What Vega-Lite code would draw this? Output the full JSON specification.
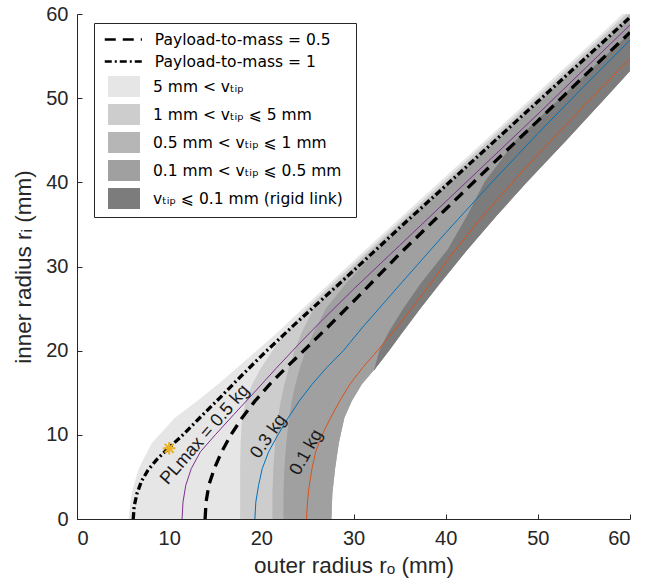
{
  "$schema": "https://vega.github.io/schema/vega-lite/v6.json",
  "width": 553,
  "height": 505,
  "autosize": {"type": "none"},
  "padding": {"left": 77, "top": 14, "right": 21, "bottom": 63},
  "background": "white",
  "config": {
    "view": {"stroke": null},
    "axis": {
      "grid": false,
      "domainColor": "#262626",
      "tickColor": "#262626",
      "labelColor": "#262626",
      "titleColor": "#262626",
      "labelFont": "Liberation Sans",
      "titleFont": "Liberation Sans",
      "labelFontSize": 20,
      "titleFontSize": 22.5,
      "titleFontWeight": "normal",
      "tickSize": -5,
      "labelPadding": 14
    }
  },
  "datasets": {
    "bands": [
      {"b": "L1", "y": 0, "x": 5.6, "x2": 27.6}, {"b": "L1", "y": 3, "x": 5.9, "x2": 27.7}, {"b": "L1", "y": 6, "x": 6.7, "x2": 28.0}, {"b": "L1", "y": 9, "x": 8.1, "x2": 28.4}, {"b": "L1", "y": 12, "x": 10.6, "x2": 29.0}, {"b": "L1", "y": 14, "x": 13.0, "x2": 29.8}, {"b": "L1", "y": 16, "x": 15.3, "x2": 30.9}, {"b": "L1", "y": 18, "x": 17.4, "x2": 32.45}, {"b": "L1", "y": 20, "x": 19.5, "x2": 33.85}, {"b": "L1", "y": 22, "x": 21.6, "x2": 35.2}, {"b": "L1", "y": 25, "x": 24.5, "x2": 37.25}, {"b": "L1", "y": 28, "x": 27.4, "x2": 39.4}, {"b": "L1", "y": 32, "x": 31.3, "x2": 42.35}, {"b": "L1", "y": 36, "x": 35.3, "x2": 45.5}, {"b": "L1", "y": 40, "x": 39.3, "x2": 48.8}, {"b": "L1", "y": 45, "x": 44.3, "x2": 53.1}, {"b": "L1", "y": 50, "x": 49.3, "x2": 57.3}, {"b": "L1", "y": 55, "x": 54.3, "x2": 61.5}, {"b": "L1", "y": 60, "x": 59.2, "x2": 65.7},
      {"b": "L2", "y": 0, "x": 17.7, "x2": 27.6}, {"b": "L2", "y": 3, "x": 17.7, "x2": 27.7}, {"b": "L2", "y": 6, "x": 17.7, "x2": 28.0}, {"b": "L2", "y": 9, "x": 17.75, "x2": 28.4}, {"b": "L2", "y": 12, "x": 17.9, "x2": 29.0}, {"b": "L2", "y": 14, "x": 18.3, "x2": 29.8}, {"b": "L2", "y": 16, "x": 19.0, "x2": 30.9}, {"b": "L2", "y": 18, "x": 20.0, "x2": 32.45}, {"b": "L2", "y": 20, "x": 21.2, "x2": 33.85}, {"b": "L2", "y": 22, "x": 22.5, "x2": 35.2}, {"b": "L2", "y": 25, "x": 24.9, "x2": 37.25}, {"b": "L2", "y": 28, "x": 27.8, "x2": 39.4}, {"b": "L2", "y": 32, "x": 31.7, "x2": 42.35}, {"b": "L2", "y": 36, "x": 35.7, "x2": 45.5}, {"b": "L2", "y": 40, "x": 39.7, "x2": 48.8}, {"b": "L2", "y": 45, "x": 44.7, "x2": 53.1}, {"b": "L2", "y": 50, "x": 49.7, "x2": 57.3}, {"b": "L2", "y": 55, "x": 54.7, "x2": 61.5}, {"b": "L2", "y": 60, "x": 59.6, "x2": 65.7},
      {"b": "L3", "y": 0, "x": 21.2, "x2": 27.6}, {"b": "L3", "y": 3, "x": 21.2, "x2": 27.7}, {"b": "L3", "y": 6, "x": 21.3, "x2": 28.0}, {"b": "L3", "y": 9, "x": 21.5, "x2": 28.4}, {"b": "L3", "y": 12, "x": 21.8, "x2": 29.0}, {"b": "L3", "y": 14, "x": 22.1, "x2": 29.8}, {"b": "L3", "y": 16, "x": 22.5, "x2": 30.9}, {"b": "L3", "y": 18, "x": 23.0, "x2": 32.45}, {"b": "L3", "y": 20, "x": 23.6, "x2": 33.85}, {"b": "L3", "y": 22, "x": 24.3, "x2": 35.2}, {"b": "L3", "y": 25, "x": 25.7, "x2": 37.25}, {"b": "L3", "y": 28, "x": 28.3, "x2": 39.4}, {"b": "L3", "y": 32, "x": 32.0, "x2": 42.35}, {"b": "L3", "y": 36, "x": 36.0, "x2": 45.5}, {"b": "L3", "y": 40, "x": 40.1, "x2": 48.8}, {"b": "L3", "y": 45, "x": 45.1, "x2": 53.1}, {"b": "L3", "y": 50, "x": 50.1, "x2": 57.3}, {"b": "L3", "y": 55, "x": 55.1, "x2": 61.5}, {"b": "L3", "y": 60, "x": 60.0, "x2": 65.7},
      {"b": "L4", "y": 0, "x": 22.4, "x2": 27.6}, {"b": "L4", "y": 3, "x": 22.4, "x2": 27.7}, {"b": "L4", "y": 6, "x": 22.5, "x2": 28.0}, {"b": "L4", "y": 9, "x": 22.7, "x2": 28.4}, {"b": "L4", "y": 12, "x": 23.0, "x2": 29.0}, {"b": "L4", "y": 14, "x": 23.3, "x2": 29.8}, {"b": "L4", "y": 16, "x": 23.7, "x2": 30.9}, {"b": "L4", "y": 18, "x": 24.2, "x2": 32.45}, {"b": "L4", "y": 20, "x": 24.8, "x2": 33.85}, {"b": "L4", "y": 22, "x": 25.6, "x2": 35.2}, {"b": "L4", "y": 25, "x": 27.0, "x2": 37.25}, {"b": "L4", "y": 28, "x": 29.2, "x2": 39.4}, {"b": "L4", "y": 32, "x": 32.6, "x2": 42.35}, {"b": "L4", "y": 36, "x": 36.5, "x2": 45.5}, {"b": "L4", "y": 40, "x": 40.6, "x2": 48.8}, {"b": "L4", "y": 45, "x": 45.6, "x2": 53.1}, {"b": "L4", "y": 50, "x": 50.6, "x2": 57.3}, {"b": "L4", "y": 55, "x": 55.6, "x2": 61.5}, {"b": "L4", "y": 60, "x": 60.5, "x2": 65.7},
      {"b": "L5", "y": 17.7, "x": 32.2, "x2": 32.3}, {"b": "L5", "y": 18, "x": 32.3, "x2": 32.45}, {"b": "L5", "y": 20, "x": 32.8, "x2": 33.85}, {"b": "L5", "y": 22, "x": 33.7, "x2": 35.2}, {"b": "L5", "y": 25, "x": 35.4, "x2": 37.25}, {"b": "L5", "y": 28, "x": 37.3, "x2": 39.4}, {"b": "L5", "y": 32, "x": 40.2, "x2": 42.35}, {"b": "L5", "y": 36, "x": 42.3, "x2": 45.5}, {"b": "L5", "y": 40, "x": 44.2, "x2": 48.8}, {"b": "L5", "y": 45, "x": 47.6, "x2": 53.1}, {"b": "L5", "y": 50, "x": 52.4, "x2": 57.3}, {"b": "L5", "y": 55, "x": 57.3, "x2": 61.5}, {"b": "L5", "y": 60, "x": 62.2, "x2": 65.7}
    ],
    "curves": [
      {"c": "ptm1", "x": 6.1, "y": 0}, {"c": "ptm1", "x": 6.2, "y": 1.5}, {"c": "ptm1", "x": 6.5, "y": 3}, {"c": "ptm1", "x": 7.0, "y": 4.5}, {"c": "ptm1", "x": 7.7, "y": 5.8}, {"c": "ptm1", "x": 8.6, "y": 7.0}, {"c": "ptm1", "x": 10.0, "y": 8.5}, {"c": "ptm1", "x": 11.5, "y": 10.0}, {"c": "ptm1", "x": 13.3, "y": 12.0}, {"c": "ptm1", "x": 15.5, "y": 14.4}, {"c": "ptm1", "x": 18, "y": 17.2}, {"c": "ptm1", "x": 20.5, "y": 19.9}, {"c": "ptm1", "x": 23.5, "y": 23.0}, {"c": "ptm1", "x": 26.5, "y": 26.0}, {"c": "ptm1", "x": 30, "y": 29.5}, {"c": "ptm1", "x": 35, "y": 34.6}, {"c": "ptm1", "x": 40, "y": 39.6}, {"c": "ptm1", "x": 45, "y": 44.6}, {"c": "ptm1", "x": 50, "y": 49.6}, {"c": "ptm1", "x": 55, "y": 54.6}, {"c": "ptm1", "x": 60, "y": 59.6},
      {"c": "pl05", "x": 11.4, "y": 0}, {"c": "pl05", "x": 11.5, "y": 2}, {"c": "pl05", "x": 11.8, "y": 4}, {"c": "pl05", "x": 12.4, "y": 6}, {"c": "pl05", "x": 13.4, "y": 8}, {"c": "pl05", "x": 15.0, "y": 10}, {"c": "pl05", "x": 17.0, "y": 12.4}, {"c": "pl05", "x": 19.2, "y": 15.0}, {"c": "pl05", "x": 21.6, "y": 17.9}, {"c": "pl05", "x": 24.0, "y": 20.7}, {"c": "pl05", "x": 26.4, "y": 23.4}, {"c": "pl05", "x": 30, "y": 27.3}, {"c": "pl05", "x": 35, "y": 32.5}, {"c": "pl05", "x": 40, "y": 37.7}, {"c": "pl05", "x": 45, "y": 42.9}, {"c": "pl05", "x": 50, "y": 48.1}, {"c": "pl05", "x": 55, "y": 53.4}, {"c": "pl05", "x": 60, "y": 58.7},
      {"c": "ptm05", "x": 13.9, "y": 0}, {"c": "ptm05", "x": 14.0, "y": 2}, {"c": "ptm05", "x": 14.3, "y": 4}, {"c": "ptm05", "x": 14.9, "y": 6}, {"c": "ptm05", "x": 15.7, "y": 8}, {"c": "ptm05", "x": 16.7, "y": 10}, {"c": "ptm05", "x": 17.9, "y": 12}, {"c": "ptm05", "x": 19.3, "y": 14}, {"c": "ptm05", "x": 20.9, "y": 16}, {"c": "ptm05", "x": 22.7, "y": 18}, {"c": "ptm05", "x": 24.6, "y": 20}, {"c": "ptm05", "x": 27.3, "y": 22.9}, {"c": "ptm05", "x": 30.4, "y": 26.3}, {"c": "ptm05", "x": 35, "y": 31.5}, {"c": "ptm05", "x": 40, "y": 36.8}, {"c": "ptm05", "x": 45, "y": 42.1}, {"c": "ptm05", "x": 50, "y": 47.3}, {"c": "ptm05", "x": 55, "y": 52.6}, {"c": "ptm05", "x": 60, "y": 57.8},
      {"c": "pl03", "x": 19.3, "y": 0}, {"c": "pl03", "x": 19.4, "y": 2}, {"c": "pl03", "x": 19.7, "y": 4}, {"c": "pl03", "x": 20.1, "y": 6}, {"c": "pl03", "x": 20.8, "y": 8}, {"c": "pl03", "x": 21.8, "y": 10}, {"c": "pl03", "x": 22.9, "y": 12}, {"c": "pl03", "x": 24.1, "y": 14}, {"c": "pl03", "x": 25.5, "y": 16}, {"c": "pl03", "x": 27.1, "y": 18}, {"c": "pl03", "x": 28.9, "y": 20}, {"c": "pl03", "x": 31, "y": 22.8}, {"c": "pl03", "x": 33, "y": 25.3}, {"c": "pl03", "x": 35, "y": 27.8}, {"c": "pl03", "x": 40, "y": 34.0}, {"c": "pl03", "x": 45, "y": 40.0}, {"c": "pl03", "x": 50, "y": 45.8}, {"c": "pl03", "x": 55, "y": 51.4}, {"c": "pl03", "x": 60, "y": 56.9},
      {"c": "pl01", "x": 24.9, "y": 0}, {"c": "pl01", "x": 25.0, "y": 2}, {"c": "pl01", "x": 25.2, "y": 4}, {"c": "pl01", "x": 25.5, "y": 6}, {"c": "pl01", "x": 25.9, "y": 8}, {"c": "pl01", "x": 26.6, "y": 10}, {"c": "pl01", "x": 27.5, "y": 12}, {"c": "pl01", "x": 28.5, "y": 14}, {"c": "pl01", "x": 29.6, "y": 16}, {"c": "pl01", "x": 31.0, "y": 18}, {"c": "pl01", "x": 32.6, "y": 20}, {"c": "pl01", "x": 34.5, "y": 22.5}, {"c": "pl01", "x": 36.5, "y": 25.3}, {"c": "pl01", "x": 38.5, "y": 28.2}, {"c": "pl01", "x": 40.5, "y": 31.2}, {"c": "pl01", "x": 43.7, "y": 35.6}, {"c": "pl01", "x": 47, "y": 39.7}, {"c": "pl01", "x": 50, "y": 43.3}, {"c": "pl01", "x": 55, "y": 49.1}, {"c": "pl01", "x": 60, "y": 54.7}
    ],
    "star": [{"x": 10, "y": 8.4}],
    "labels": [
      {"id": "a", "text": "PLmax = 0.5 kg", "x": 13.9, "y": 10.0},
      {"id": "b", "text": "0.3 kg", "x": 20.8, "y": 9.8},
      {"id": "c", "text": "0.1 kg", "x": 24.9, "y": 7.9}
    ]
  },
  "encoding": {
    "x": {"field": "x", "type": "quantitative", "scale": {"domain": [0, 60], "nice": false},
          "axis": {"values": [0, 10, 20, 30, 40, 50, 60], "title": "outer radius rₒ (mm)", "titlePadding": 6}},
    "y": {"field": "y", "type": "quantitative", "scale": {"domain": [0, 60], "nice": false},
          "axis": {"values": [0, 10, 20, 30, 40, 50, 60], "title": "inner radius rᵢ (mm)", "titlePadding": 10}}
  },
  "layer": [
    {
      "data": {"name": "bands"},
      "transform": [{"filter": "datum.b === 'L1'"}],
      "mark": {"type": "area", "orient": "horizontal", "clip": true, "opacity": 1},
      "encoding": {
        "x2": {"field": "x2"},
        "fill": {
          "datum": "5 mm < vₜᵢₚ",
          "type": "nominal",
          "scale": {
            "domain": ["5 mm < vₜᵢₚ", "1 mm < vₜᵢₚ  ⩽ 5 mm", "0.5 mm < vₜᵢₚ  ⩽ 1 mm", "0.1 mm < vₜᵢₚ ⩽ 0.5 mm", "vₜᵢₚ ⩽ 0.1 mm  (rigid link)"],
            "range": ["#e6e6e6", "#cdcdcd", "#b6b6b6", "#a0a0a0", "#7c7c7c"]
          },
          "legend": {
            "title": " ",
            "titleFontSize": 36,
            "titlePadding": 9.5,
            "orient": "none",
            "legendX": 17,
            "legendY": 9,
            "padding": 8,
            "zindex": 1,
            "strokeColor": "#262626",
            "fillColor": "white",
            "labelFont": "DejaVu Sans",
            "labelFontSize": 15.5,
            "labelColor": "black",
            "labelLimit": 400,
            "symbolType": "M-2.2,0M-1.6,-1.05H1.6V1.05H-1.6Z",
            "symbolSize": 400,
            "symbolStrokeWidth": 0,
            "symbolOpacity": 1,
            "symbolOffset": 12,
            "rowPadding": 6,
            "labelOffset": 19
          }
        }
      }
    },
    {
      "data": {"name": "bands"},
      "transform": [{"filter": "datum.b === 'L2'"}],
      "mark": {"type": "area", "orient": "horizontal", "clip": true, "opacity": 1},
      "encoding": {"x2": {"field": "x2"}, "fill": {"datum": "1 mm < vₜᵢₚ  ⩽ 5 mm", "type": "nominal"}}
    },
    {
      "data": {"name": "bands"},
      "transform": [{"filter": "datum.b === 'L3'"}],
      "mark": {"type": "area", "orient": "horizontal", "clip": true, "opacity": 1},
      "encoding": {"x2": {"field": "x2"}, "fill": {"datum": "0.5 mm < vₜᵢₚ  ⩽ 1 mm", "type": "nominal"}}
    },
    {
      "data": {"name": "bands"},
      "transform": [{"filter": "datum.b === 'L4'"}],
      "mark": {"type": "area", "orient": "horizontal", "clip": true, "opacity": 1},
      "encoding": {"x2": {"field": "x2"}, "fill": {"datum": "0.1 mm < vₜᵢₚ ⩽ 0.5 mm", "type": "nominal"}}
    },
    {
      "data": {"name": "bands"},
      "transform": [{"filter": "datum.b === 'L5'"}],
      "mark": {"type": "area", "orient": "horizontal", "clip": true, "opacity": 1},
      "encoding": {"x2": {"field": "x2"}, "fill": {"datum": "vₜᵢₚ ⩽ 0.1 mm  (rigid link)", "type": "nominal"}}
    },
    {
      "data": {"name": "curves"},
      "transform": [{"filter": "datum.c === 'pl05'"}],
      "mark": {"type": "line", "color": "#7E2F8E", "strokeWidth": 1, "clip": true}
    },
    {
      "data": {"name": "curves"},
      "transform": [{"filter": "datum.c === 'pl03'"}],
      "mark": {"type": "line", "color": "#0072BD", "strokeWidth": 1, "clip": true}
    },
    {
      "data": {"name": "curves"},
      "transform": [{"filter": "datum.c === 'pl01'"}],
      "mark": {"type": "line", "color": "#D95319", "strokeWidth": 1, "clip": true}
    },
    {
      "data": {"name": "curves"},
      "transform": [{"filter": "datum.c === 'ptm05'"}],
      "mark": {"type": "line", "color": "black", "strokeWidth": 3.3, "strokeCap": "butt", "clip": true},
      "encoding": {
        "strokeDash": {
          "datum": "Payload-to-mass = 0.5",
          "type": "nominal",
          "scale": {"domain": ["Payload-to-mass = 0.5", "Payload-to-mass = 1"], "range": [[11, 7], [7, 3, 2, 3]]},
          "legend": {
            "title": null,
            "orient": "none",
            "legendX": 26,
            "legendY": 16,
            "padding": 0,
            "zindex": 2,
            "labelFont": "DejaVu Sans",
            "labelFontSize": 15.5,
            "labelColor": "black",
            "labelLimit": 400,
            "symbolType": "M-2.4,0H2.4",
            "symbolSize": 240,
            "symbolStrokeColor": "black",
            "symbolStrokeWidth": 2.6,
            "symbolOffset": 10.85,
            "rowPadding": 4,
            "labelOffset": 22
          }
        }
      }
    },
    {
      "data": {"name": "curves"},
      "transform": [{"filter": "datum.c === 'ptm1'"}],
      "mark": {"type": "line", "color": "black", "strokeWidth": 3.3, "strokeCap": "butt", "clip": true},
      "encoding": {"strokeDash": {"datum": "Payload-to-mass = 1", "type": "nominal"}}
    },
    {
      "data": {"name": "star"},
      "mark": {"type": "point", "shape": "M-1,0L1,0M0,-1L0,1M-0.7,-0.7L0.7,0.7M-0.7,0.7L0.7,-0.7", "size": 160, "stroke": "#EDB120", "strokeWidth": 2, "filled": false, "opacity": 1}
    },
    {
      "data": {"name": "labels"},
      "transform": [{"filter": "datum.id === 'a'"}],
      "mark": {"type": "text", "angle": 311, "font": "Liberation Sans", "fontSize": 18, "color": "#1a1a1a", "align": "center", "baseline": "middle"},
      "encoding": {"text": {"field": "text"}}
    },
    {
      "data": {"name": "labels"},
      "transform": [{"filter": "datum.id === 'b'"}],
      "mark": {"type": "text", "angle": 305, "font": "Liberation Sans", "fontSize": 18, "color": "#1a1a1a", "align": "center", "baseline": "middle"},
      "encoding": {"text": {"field": "text"}}
    },
    {
      "data": {"name": "labels"},
      "transform": [{"filter": "datum.id === 'c'"}],
      "mark": {"type": "text", "angle": 299, "font": "Liberation Sans", "fontSize": 18, "color": "#1a1a1a", "align": "center", "baseline": "middle"},
      "encoding": {"text": {"field": "text"}}
    }
  ]
}
